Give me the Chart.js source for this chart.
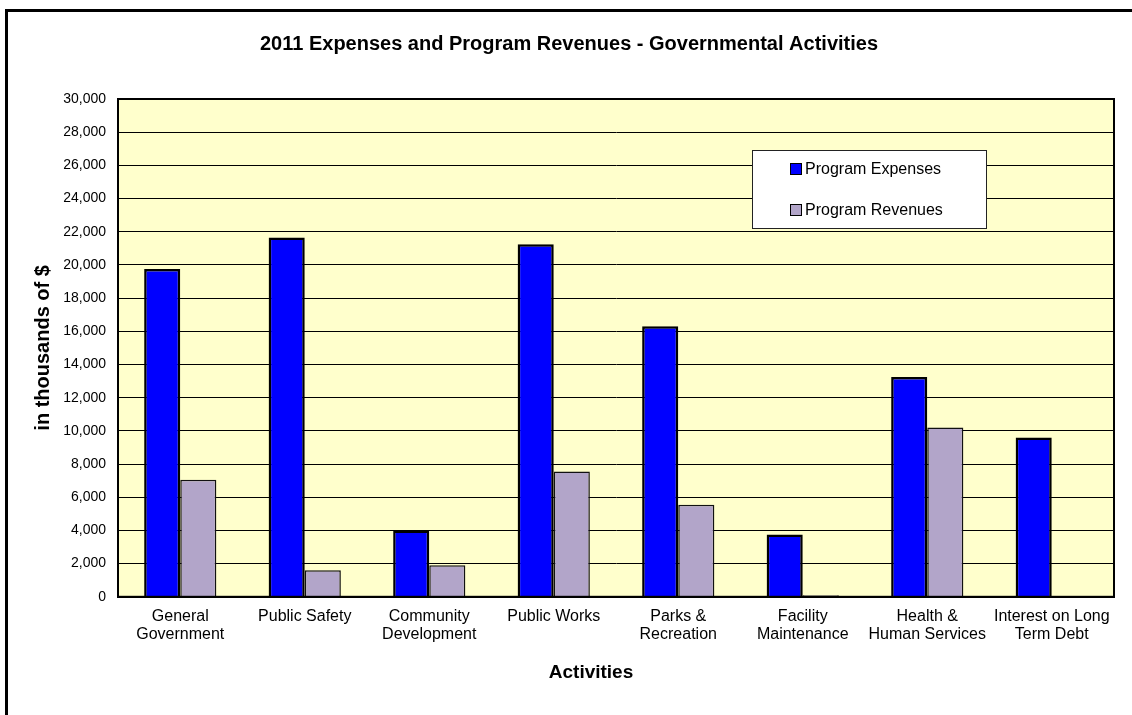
<!DOCTYPE html>
<html>
<head>
<meta charset="utf-8">
<script src="https://cdn.jsdelivr.net/npm/chart.js@4"></script>
<style>
  html, body { margin: 0; padding: 0; background: #fff; overflow: hidden; }
  #wrap { width: 1132px; height: 715px; }
</style>
</head>
<body>
<div id="wrap"><canvas id="myChart" width="1132" height="715"></canvas></div>
<script>
// dữ liệu biểu đồ (nghìn $)
const categories = [
  ['General', 'Government'],
  'Public Safety',
  ['Community', 'Development'],
  'Public Works',
  ['Parks &', 'Recreation'],
  ['Facility', 'Maintenance'],
  ['Health &', 'Human Services'],
  ['Interest on Long', 'Term Debt']
];
const programExpenses = [19750, 21650, 4000, 21250, 16300, 3750, 13250, 9600];
const programRevenues = [7050, 1600, 1900, 7550, 5550, 100, 10200, null];
const seriesNames = ['Program Expenses', 'Program Revenues'];
const xTitle = 'Activities';

const FONT = '"Liberation Sans", Arial, sans-serif';

// nền vàng + khung ngoài + chú thích
const bgPlugin = {
  id: 'bgPlugin',
  beforeDraw(chart) {
    const { ctx, chartArea: a } = chart;
    ctx.save();
    ctx.fillStyle = '#fff';
    ctx.fillRect(0, 0, chart.width, chart.height);
    ctx.fillStyle = '#000';
    ctx.fillRect(5, 9, 3, chart.height);
    ctx.fillRect(5, 9, chart.width, 3);
    ctx.fillStyle = '#FFFFCC';
    ctx.fillRect(a.left, a.top, a.right - a.left, a.bottom - a.top);
    ctx.restore();
  },
  afterDraw(chart) {
    const { ctx, chartArea: a } = chart;
    ctx.save();
    ctx.strokeStyle = '#000';
    ctx.lineWidth = 2;
    ctx.strokeRect(a.left, a.top, a.right - a.left, a.bottom - a.top);

    // tiêu đề trục x (lệch trái như bản gốc)
    ctx.fillStyle = '#000';
    ctx.font = 'bold 19px ' + FONT;
    ctx.textAlign = 'center';
    ctx.textBaseline = 'middle';
    ctx.fillText(xTitle, 591, 673);

    // chú thích
    const bx = 752, by = 150, bw = 234, bh = 78;
    ctx.fillStyle = '#fff';
    ctx.fillRect(bx, by, bw, bh);
    ctx.lineWidth = 1;
    ctx.strokeStyle = '#222';
    ctx.strokeRect(bx + 0.5, by + 0.5, bw, bh);
    ctx.font = '16px ' + FONT;
    ctx.textAlign = 'left';
    chart.data.datasets.forEach((ds, i) => {
      const y = 169 + i * 41;
      ctx.fillStyle = ds.backgroundColor;
      ctx.fillRect(791, y - 5, 10, 10);
      ctx.strokeStyle = '#000';
      ctx.strokeRect(790.5, y - 5.5, 11, 11);
      ctx.fillStyle = '#000';
      ctx.fillText(ds.label, 805, y + 1);
    });
    ctx.restore();
  }
};

new Chart(document.getElementById('myChart'), {
  type: 'bar',
  data: {
    labels: categories,
    datasets: [{
      label: seriesNames[0],
      data: programExpenses,
      backgroundColor: '#0000FF',
      borderColor: '#000',
      borderWidth: 2.5,
      borderSkipped: 'bottom'
    }, {
      label: seriesNames[1],
      data: programRevenues,
      backgroundColor: '#B2A5C9',
      borderColor: '#111',
      borderWidth: 1.5,
      borderSkipped: 'bottom'
    }]
  },
  options: {
    responsive: false,
    animation: false,
    devicePixelRatio: 1,
    categoryPercentage: 0.58,
    barPercentage: 1.0,
    layout: { padding: { left: 24, right: 18, top: 0, bottom: 69 } },
    plugins: {
      legend: { display: false },
      tooltip: { enabled: false },
      title: {
        display: true,
        text: '2011 Expenses and Program Revenues - Governmental Activities',
        color: '#000',
        font: { family: FONT, size: 20, weight: 'bold' },
        padding: { top: 32, bottom: 43 }
      }
    },
    scales: {
      x: {
        grid: { display: false },
        border: { display: true, color: '#000', width: 2 },
        ticks: {
          color: '#000',
          font: { family: FONT, size: 16, lineHeight: 1.1 },
          padding: 3,
          maxRotation: 0,
          autoSkip: false
        }
      },
      y: {
        min: 0,
        max: 30000,
        afterFit(scale) { scale.width = 94; },
        ticks: {
          stepSize: 2000,
          color: '#000',
          padding: 12,
          font: { family: FONT, size: 14 },
          callback: (v) => v.toLocaleString('en-US')
        },
        grid: { color: '#000', lineWidth: 1, drawTicks: false, tickLength: 0 },
        border: { display: true, color: '#000', width: 2 },
        title: {
          display: true,
          text: 'in thousands of $',
          color: '#000',
          font: { family: FONT, size: 20, weight: 'bold' },
          padding: { top: 7, bottom: 0 }
        }
      }
    }
  },
  plugins: [bgPlugin]
});
</script>
</body>
</html>
